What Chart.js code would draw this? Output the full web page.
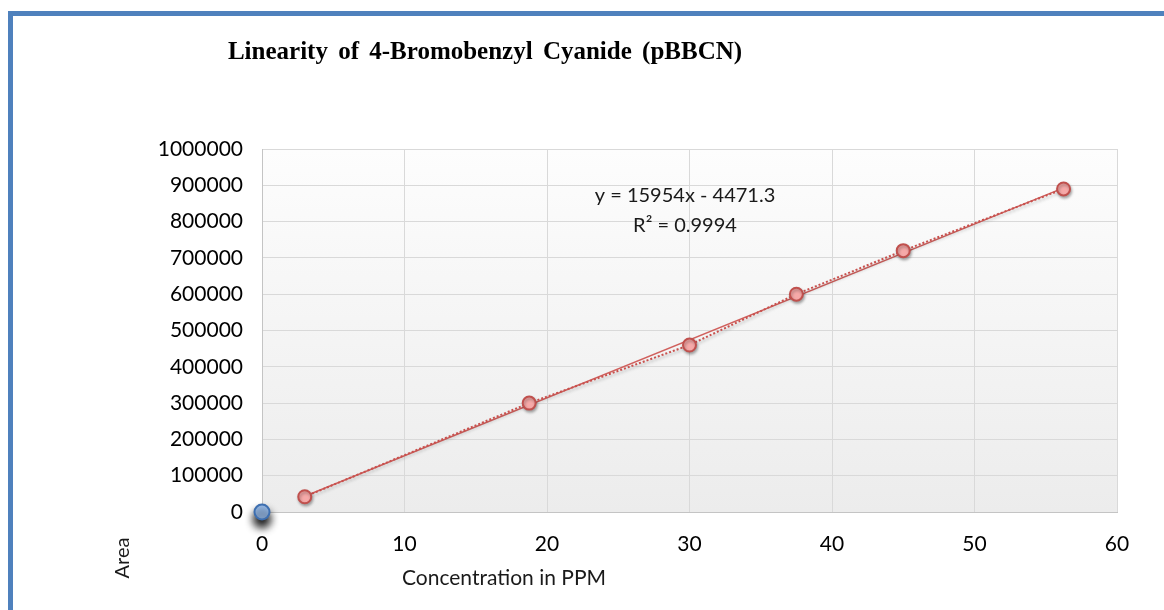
<!DOCTYPE html>
<html>
<head>
<meta charset="utf-8">
<script src="https://cdn.jsdelivr.net/npm/chart.js@4.4.1/dist/chart.umd.min.js"></script>
<style>
  html, body { margin: 0; padding: 0; background: #fff; }
  #wrap { width: 1164px; height: 610px; }
</style>
</head>
<body>
<div id="wrap"><canvas id="canvasLinearity" width="1164" height="610"></canvas></div>
<script>
// values
var conc = [3, 18.75, 30, 37.5, 45, 56.25];
var area = [42000, 300000, 460000, 600000, 720000, 890000];
var blankConc = [0];
var blankArea = [0];
// trendline y = 15954x - 4471.3, ends at first and last standard
var trendConc = [3, 56.25];
var trendArea = [43400, 892900];

var chartTitle = 'Linearity of 4-Bromobenzyl Cyanide (pBBCN)';
var equation = 'y = 15954x - 4471.3';
var rSquared = 'R\u00B2 = 0.9994';
var xTitle = 'Concentration in PPM';
var yTitle = 'Area';

function toPoints(xs, ys) {
  var pts = [];
  for (var i in xs) {
    pts.push({ x: xs[i], y: ys[i] });
  }
  return pts;
}

var decor = {
  id: 'decor',
  beforeDraw: function(chart) {
    var ctx = chart.ctx;
    var a = chart.chartArea;
    ctx.save();
    ctx.fillStyle = '#ffffff';
    ctx.fillRect(0, 0, chart.width, chart.height);
    var g = ctx.createLinearGradient(0, a.top, 0, a.bottom);
    g.addColorStop(0, '#fdfdfd');
    g.addColorStop(1, '#ececec');
    ctx.fillStyle = g;
    ctx.fillRect(a.left, a.top, a.right - a.left, a.bottom - a.top);
    ctx.restore();
  },
  beforeDatasetDraw: function(chart, args) {
    var ctx = chart.ctx;
    ctx.save();
    if (args.index === 2) {
      ctx.shadowColor = 'rgba(0,0,0,1)';
      ctx.shadowBlur = 8;
      ctx.shadowOffsetY = 7;
    } else if (args.index === 0) {
      ctx.shadowColor = 'rgba(0,0,0,0.3)';
      ctx.shadowBlur = 3;
      ctx.shadowOffsetX = 1;
      ctx.shadowOffsetY = 2;
    }
  },
  afterDatasetDraw: function(chart) {
    chart.ctx.restore();
  },
  afterDraw: function(chart) {
    var ctx = chart.ctx;
    ctx.save();
    // outer frame
    ctx.strokeStyle = '#4f81bd';
    ctx.lineWidth = 5;
    ctx.strokeRect(10.5, 13.5, 1300, 800);

    ctx.fillStyle = '#000';
    ctx.textAlign = 'center';
    ctx.textBaseline = 'middle';
    ctx.font = 'bold 25px "Liberation Serif"';
    ctx.wordSpacing = '4px';
    ctx.fillText(chartTitle, 485, 53);
    ctx.wordSpacing = '0px';

    ctx.font = '20px Lato';
    ctx.fillStyle = '#1a1a1a';
    ctx.fillText(equation, 685, 196);
    ctx.fillText(rSquared, 685, 226);

    ctx.font = '21px Lato';
    ctx.fillText(xTitle, 504, 578);

    ctx.font = '20px Lato';
    ctx.translate(123, 558);
    ctx.rotate(-Math.PI / 2);
    ctx.fillText(yTitle, 0, 0);
    ctx.restore();
  }
};

var ctx = document.getElementById('canvasLinearity');

var chart = new Chart(ctx, {
  type: 'scatter',
  data: {
    datasets: [
      {
        label: 'Standards',
        data: toPoints(conc, area),
        showLine: true,
        borderColor: '#c9504d',
        borderWidth: 2,
        borderDash: [2, 2],
        pointRadius: 6.5,
        pointBorderWidth: 2,
        pointBackgroundColor: '#f6a9a8',
        pointBorderColor: '#c0504d',
        clip: false
      },
      {
        label: 'Linear',
        data: toPoints(trendConc, trendArea),
        showLine: true,
        borderColor: '#d0605d',
        borderWidth: 1.5,
        pointRadius: 0,
        clip: false
      },
      {
        label: 'Blank',
        data: toPoints(blankConc, blankArea),
        pointRadius: 7.5,
        pointBorderWidth: 2,
        pointBackgroundColor: '#9cc0ef',
        pointBorderColor: '#3e6fb0',
        clip: false
      }
    ]
  },
  options: {
    responsive: false,
    animation: false,
    layout: { padding: { top: 149, right: 47, left: 0, bottom: 0 } },
    plugins: {
      legend: { display: false },
      tooltip: { enabled: false },
      title: { display: false }
    },
    scales: {
      x: {
        type: 'linear',
        min: 0,
        max: 60,
        ticks: {
          stepSize: 10,
          padding: 20,
          color: '#000',
          font: { family: 'Lato', size: 21 }
        },
        grid: { color: '#d9d9d9', drawTicks: false },
        border: { color: '#c4c4c4' },
        afterFit: function(scale) { scale.height = 98; }
      },
      y: {
        min: 0,
        max: 1000000,
        ticks: {
          stepSize: 100000,
          padding: 19,
          color: '#000',
          font: { family: 'Lato', size: 21 }
        ,
          callback: function(v) { return String(v); }
        },
        grid: { color: '#d9d9d9', drawTicks: false },
        border: { color: '#c4c4c4' },
        afterFit: function(scale) { scale.width = 262; }
      }
    }
  },
  plugins: [decor]
});
</script>
</body>
</html>
